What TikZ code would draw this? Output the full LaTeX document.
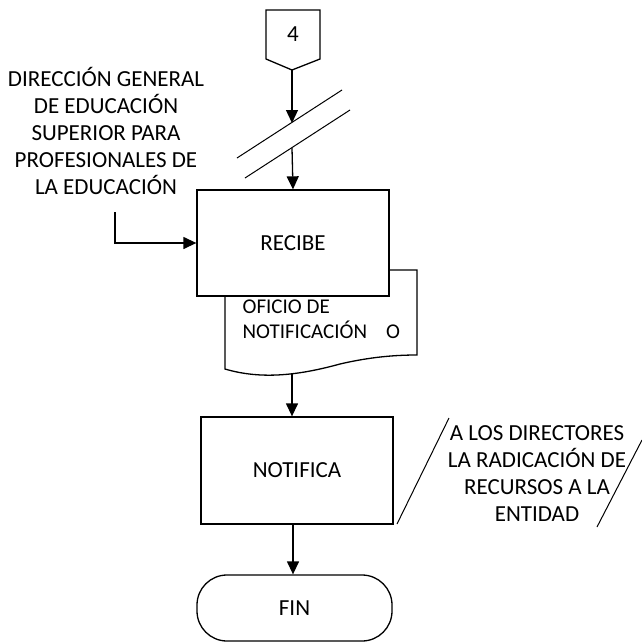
\documentclass[tikz,border=0pt]{standalone}
\usepackage{fontspec}
\setmainfont{Carlito}
\usetikzlibrary{arrows.meta}
\begin{document}
\begin{tikzpicture}[x=1pt,y=-1pt,
  line width=1.3pt,
  arr/.style={-{Triangle[length=13pt,width=12pt]}},
  proc/.style={draw,fill=white,rectangle,minimum width=192pt,minimum height=106pt,inner sep=0pt},
  lbl/.style={font=\fontsize{23}{27}\selectfont,align=center,inner sep=0pt},
  thin/.style={line width=1pt}]
\useasboundingbox (0,0) rectangle (642,643);
% off-page connector
\draw (266,10) -- (320,10) -- (320,59) -- (292,70) -- (266,59) -- cycle;
\node[lbl] (n4) at (293,34) {4};
\coordinate (c4) at (292,70);
% double slash
\draw[thin] (237,158) -- (342,90);
\draw[thin] (245,178) -- (350,110);
\coordinate (s1) at (292,123);
\coordinate (s2) at (292,148);
\draw[arr] (c4) -- (s1);
% document
\draw[fill=white] (225,290) -- (225,369) .. controls (262,380) and (300,375) .. (340,364)
  .. controls (370,357) and (395,355) .. (417,355) -- (417,270) -- (380,270);
\node[font=\fontsize{21}{25}\selectfont,align=left,anchor=north west,inner sep=0pt] (doc) at (242,299)
  {OFICIO DE\\NOTIFICACIÓN\hspace{0.9em}O};
\coordinate (docb) at (292,374);
% RECIBE box
\node[proc] (recibe) at (293,243) {};
\node[lbl] at (recibe.center) {RECIBE};
\draw[arr] (s2) -- (recibe.north);
% left text
\node[lbl] (dir) at (106,131) {DIRECCIÓN GENERAL\\DE EDUCACIÓN\\SUPERIOR PARA\\PROFESIONALES DE\\LA EDUCACIÓN};
\coordinate (ls) at (115,212);
\draw[arr] (ls) |- (recibe.west |- 0,243);
% NOTIFICA
\node[proc,minimum height=107pt] (notif) at (297,470.5) {};
\node[lbl] at (notif.center) {NOTIFICA};
\draw[arr] (docb) -- (notif.north -| 292,0);
% right text
\draw[thin] (397,524) -- (449,418);
\draw[thin] (597,527) -- (642,440);
\node[lbl] (rt) at (537,474) {A LOS DIRECTORES\\LA RADICACIÓN DE\\RECURSOS A LA\\ENTIDAD};
% FIN
\node[draw,rounded corners=30pt,minimum width=195pt,minimum height=66pt,inner sep=0pt,lbl] (fin) at (294.5,608) {FIN};
\draw[arr] (notif.south -| 293,0) -- (fin.north -| 293,0);
\end{tikzpicture}
\end{document}
